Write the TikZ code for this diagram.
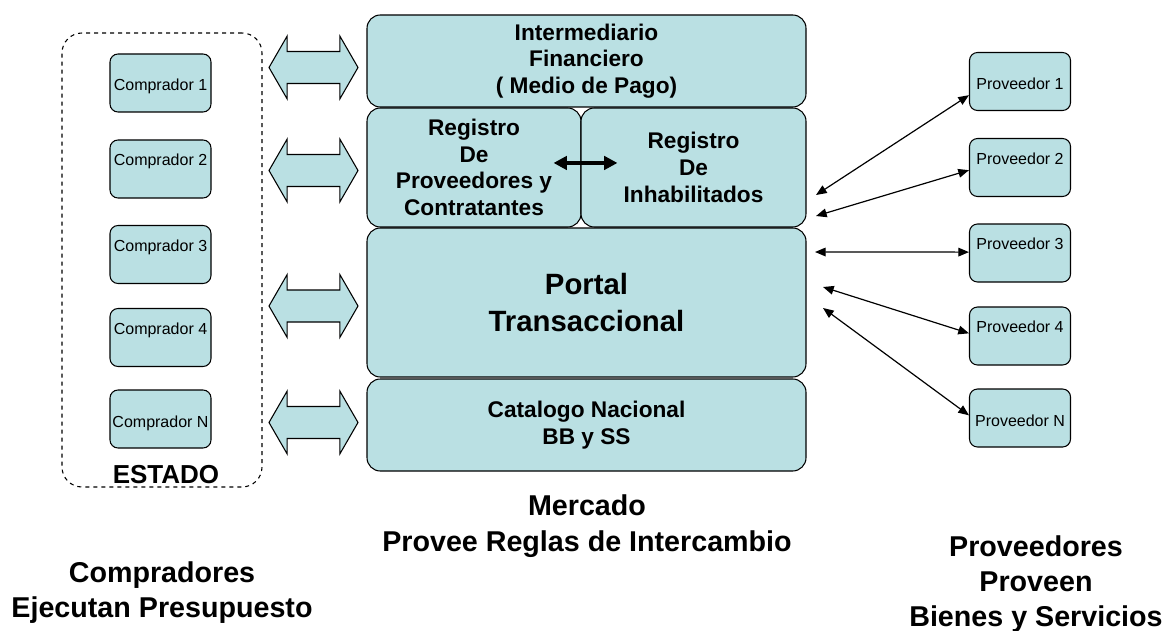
\documentclass[tikz,border=0pt]{standalone}
\usepackage{fontspec}
\setmainfont{Liberation Sans}
\usepackage{xcolor}
\usepackage{tikz}
\usetikzlibrary{arrows.meta}
\usetikzlibrary{shapes}
\usetikzlibrary{positioning}
\definecolor{boxfill}{RGB}{186,224,227}
\tikzset{%
  every party/.style={
    draw,
    fill=boxfill,
    rounded corners=6pt,
    line width=0.8pt,
    inner sep=0pt,
    minimum width=75.75pt,
    minimum height=43.5pt,
    font=\fontsize{12}{14}\selectfont
  },
  party high/.style={
    text height=8pt,
    text depth=13pt
  },
  party low/.style={
    text height=13pt,
    text depth=1pt
  },
  every block/.style={
    draw,
    fill=boxfill,
    rounded corners=10pt,
    line width=0.8pt,
    inner sep=0pt,
    align=center,
    font=\bfseries\fontsize{17}{20}\selectfont
  },
  big arrow/.style={
    double arrow,
    draw,
    fill=boxfill,
    line width=0.8pt,
    inner xsep=0pt,
    inner ysep=11.6pt,
    minimum height=66.75pt,
    double arrow head extend=11.6pt,
    double arrow tip angle=120
  },
  link/.style={
    {Triangle[length=8pt,width=6.5pt]}-{Triangle[length=8pt,width=6.5pt]},
    line width=0.9pt
  },
  caption/.style={
    align=center,
    font=\bfseries\fontsize{21.5}{26.5}\selectfont
  },
}

\begin{document}
\begin{tikzpicture}[x=0.75pt, y=-0.75pt]
    \useasboundingbox (0,0) rectangle (1163,631);

    % compradores
    \node [draw, dashed, rounded corners=15pt, line width=0.8pt,
        minimum width=150pt, minimum height=340.5pt] (estado) at (162,260) {};
    \node [font=\bfseries\fontsize{19.5}{22}\selectfont] (estado-label) at (166,475) {ESTADO};

    \foreach \m/\y/\s [count=\i] in {1/83/low, 2/169/high, 3/254.5/high, 4/337.5/high, N/419/low}
    \node [every party/.try, party \s/.try] (comprador-\i) at (160.5,\y) {Comprador \m};

    % proveedores
    \foreach \m/\y/\s [count=\i] in {1/81.5/low, 2/167.5/high, 3/253/high, 4/336/high, N/418/low}
    \node [every party/.try, party \s/.try] (proveedor-\i) at (1020,\y) {Proveedor \m};

    % mercado
    \node [every block/.try, minimum width=329.25pt, minimum height=69pt]
        (intermediario) at (586.5,61) {Intermediario\\Financiero\\( Medio de Pago)};
    \node [every block/.try, minimum width=160.5pt, minimum height=89.25pt]
        (registro-prov) at (474,167.5) {Registro\\De\\Proveedores y\\Contratantes};
    \node [every block/.try, minimum width=168.75pt, minimum height=89.25pt]
        (registro-inh) at (693.5,167.5) {Registro\\De\\Inhabilitados};
    \node [every block/.try, minimum width=329.25pt, minimum height=111.75pt,
        font=\bfseries\fontsize{22}{28}\selectfont]
        (portal) at (586.5,302.5) {Portal\\Transaccional};
    \node [every block/.try, minimum width=329.25pt, minimum height=69pt]
        (catalogo) at (586.5,425) {Catalogo Nacional\\BB y SS};

    \draw [{Triangle[length=10pt,width=10pt]}-{Triangle[length=10pt,width=10pt]}, line width=2.6pt]
        ([xshift=-21pt,yshift=3.4pt]registro-prov.east) -- ([xshift=27.75pt,yshift=3.4pt]registro-inh.west);

    \foreach \y [count=\i] in {67.5,170.5,306,422.5}
    \node [big arrow] (flujo-\i) at (313.5,\y) {};

    \foreach \a/\x/\y [count=\j] in {195/816/195, 183/816/216, 179/815/252, 177/823/287, 177/823/308}
    {
        \coordinate (mercado-\j) at (\x,\y);
        \draw [link] (proveedor-\j.\a) -- (mercado-\j);
    }

    \node [caption] (compradores) at (162,592.5) {Compradores\\Ejecutan Presupuesto};
    \node [caption] (mercado) at (587,526) {Mercado\\Provee Reglas de Intercambio};
    \node [caption] (proveedores) at (1036,584) {Proveedores\\Proveen\\Bienes y Servicios};

\end{tikzpicture}
\end{document}
